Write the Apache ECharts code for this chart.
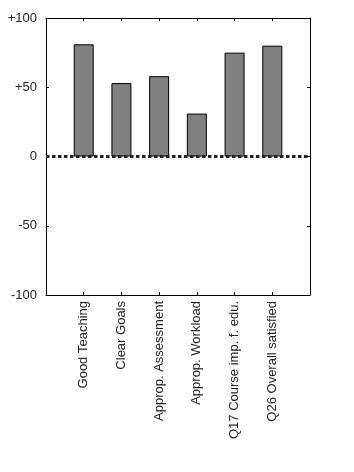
<!DOCTYPE html>
<html>
<head>
<meta charset="utf-8">
<script src="https://cdn.jsdelivr.net/npm/echarts@6/dist/echarts.min.js"></script>
<style>
html, body { margin: 0; padding: 0; background: #fff; }
#chart { width: 354px; height: 472px; }
</style>
</head>
<body>
<div id="chart"></div>
<script>
// Kategorien und Werte
const categories = ['Good Teaching', 'Clear Goals', 'Approp. Assessment', 'Approp. Workload', 'Q17 Course imp. f. edu.', 'Q26 Overall satisfied']
const scores = [81, 53, 58, 31, 75, 80]
const yTicks = [-100, -50, 0, 50, 100]
const yTickLabels = ['-100', '-50', '0', '+50', '+100']

// leere Plätze links und rechts, damit die Balken bei 1..6 von 0..7 stehen
const axisCats = [''].concat(categories, [''])
const barData = [null].concat(scores, [null])

const chart = echarts.init(document.getElementById('chart'))

const axisLine = { show: true, onZero: false, lineStyle: { color: '#000', width: 1 } }
const tick = { show: true, inside: true, length: 3, lineStyle: { color: '#000' } }
const font = { color: '#222', fontFamily: 'Liberation Sans, Arial, sans-serif', fontSize: 13 }

chart.setOption({
  animation: false,
  grid: { left: 46, right: 44, top: 18, bottom: 177 },
  xAxis: [
    {
      type: 'category',
      data: axisCats,
      boundaryGap: false,
      position: 'bottom',
      axisLine: axisLine,
      axisTick: Object.assign({}, tick, { interval: i => i > 0 && i < axisCats.length - 1 }),
      axisLabel: Object.assign({ rotate: 90, interval: 0, margin: 6 }, font),
      splitLine: { show: false }
    },
    {
      type: 'category',
      data: axisCats,
      boundaryGap: false,
      position: 'top',
      axisLine: axisLine,
      axisTick: Object.assign({}, tick, { interval: i => i > 0 && i < axisCats.length - 1 }),
      axisLabel: { show: false },
      splitLine: { show: false }
    }
  ],
  yAxis: [
    {
      type: 'value',
      min: -100,
      max: 100,
      interval: 50,
      position: 'left',
      axisLine: axisLine,
      axisTick: tick,
      axisLabel: Object.assign({ margin: 9, formatter: v => yTickLabels[yTicks.indexOf(v)] }, font),
      splitLine: { show: false }
    },
    {
      type: 'value',
      min: -100,
      max: 100,
      interval: 50,
      position: 'right',
      axisLine: axisLine,
      axisTick: tick,
      axisLabel: { show: false },
      splitLine: { show: false }
    }
  ],
  series: [
    {
      name: 'Score',
      type: 'bar',
      data: barData,
      barWidth: 20,
      itemStyle: { color: '#808080', borderColor: '#000', borderWidth: 1 },
      markLine: {
        silent: true,
        symbol: 'none',
        label: { show: false },
        lineStyle: { color: '#222', width: 3, type: [3.5, 2.5] },
        data: [{ yAxis: 0 }]
      }
    }
  ]
})
</script>
</body>
</html>
